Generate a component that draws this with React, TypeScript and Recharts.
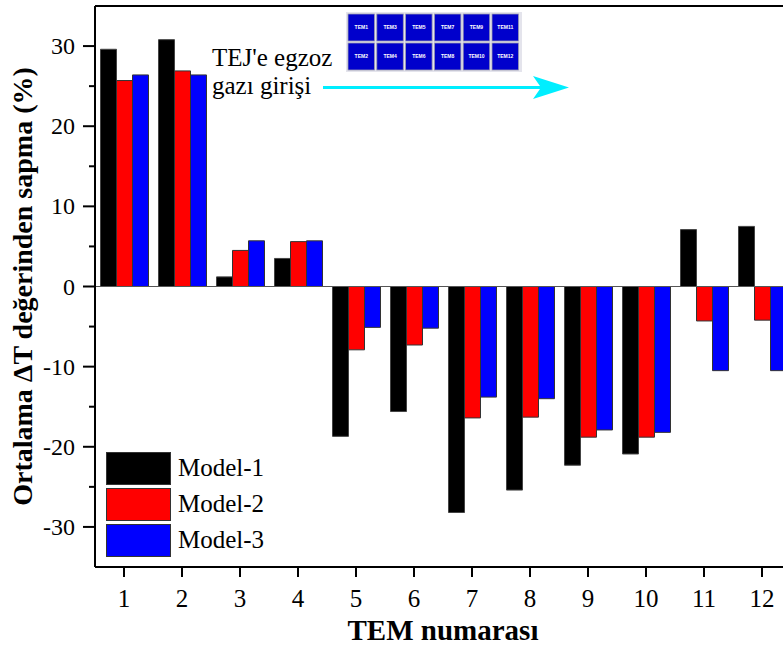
import React from "react";
import {
  BarChart,
  Bar,
  XAxis,
  YAxis,
  ReferenceLine,
  Legend,
} from "recharts";

const temLabels = ["1", "2", "3", "4", "5", "6", "7", "8", "9", "10", "11", "12"];
const model1 = [29.6, 30.8, 1.2, 3.5, -18.7, -15.6, -28.2, -25.4, -22.3, -20.9, 7.1, 7.5];
const model2 = [25.7, 26.9, 4.5, 5.6, -7.9, -7.3, -16.4, -16.3, -18.8, -18.8, -4.3, -4.2];
const model3 = [26.4, 26.4, 5.7, 5.7, -5.1, -5.2, -13.8, -14.0, -17.9, -18.2, -10.5, -10.5];
const yTicks = [-30, -25, -20, -15, -10, -5, 0, 5, 10, 15, 20, 25, 30];
const insetTop = ["TEM1", "TEM3", "TEM5", "TEM7", "TEM9", "TEM11"];
const insetBottom = ["TEM2", "TEM4", "TEM6", "TEM8", "TEM10", "TEM12"];

const data = temLabels.map((tem, i) => ({
  tem,
  m1: model1[i],
  m2: model2[i],
  m3: model3[i],
}));

const FONT = "Liberation Serif, Times New Roman, serif";

const YTick = (props: any) => {
  const { x, y, payload } = props;
  const major = payload.value % 10 === 0;
  return (
    <g>
      <line x1={x - (major ? 12 : 6)} x2={x} y1={y} y2={y} stroke="#000" strokeWidth={2} />
      {major && (
        <text x={x - 20} y={y + 8} textAnchor="end" style={{ fontFamily: FONT, fontSize: 24 }} fill="#000">
          {payload.value}
        </text>
      )}
    </g>
  );
};

const XTick = (props: any) => {
  const { x, y, payload } = props;
  return (
    <g>
      <line x1={x} x2={x} y1={y} y2={y + 10} stroke="#000" strokeWidth={2} />
      <text x={x} y={y + 40} textAnchor="middle" style={{ fontFamily: FONT, fontSize: 25 }} fill="#000">
        {payload.value}
      </text>
    </g>
  );
};

const LegendBox = (props: any) => {
  const { payload } = props;
  return (
    <div style={{ fontFamily: FONT }}>
      {payload.map((p: any) => (
        <div key={p.value} style={{ display: "flex", alignItems: "center", height: 36 }}>
          <span
            style={{
              display: "inline-block",
              width: 63,
              height: 31,
              background: p.color,
              border: "1px solid #333",
              marginRight: 7,
            }}
          />
          <span style={{ fontSize: 25, color: "#000", fontFamily: FONT }}>{p.value}</span>
        </div>
      ))}
    </div>
  );
};

const Inset = () => (
  <svg
    width={783}
    height={646}
    style={{ position: "absolute", left: 0, top: 0, pointerEvents: "none" }}
  >
    <rect x={346} y={12} width={176} height={60} fill="#e4e4ec" />
    {[insetTop, insetBottom].map((row, r) =>
      row.map((name, c) => (
        <g key={name}>
          <rect
            x={348 + c * 28.8}
            y={14 + r * 29}
            width={26.5}
            height={27}
            fill="#0000cc"
            stroke="#9a9ab0"
            strokeWidth={0.8}
          />
          <text
            x={348 + c * 28.8 + 13.25}
            y={14 + r * 29 + 15}
            textAnchor="middle"
            style={{ fontSize: 5, fontWeight: "bold", fontFamily: "Liberation Sans, Arial, sans-serif" }}
            fill="#ffffff"
          >
            {name}
          </text>
        </g>
      ))
    )}
    <text x={212} y={66} style={{ fontFamily: FONT, fontSize: 25 }} fill="#000">
      TEJ'e egzoz
    </text>
    <text x={212} y={94} style={{ fontFamily: FONT, fontSize: 25 }} fill="#000">
      gazı girişi
    </text>
    <line x1={323} x2={545} y1={87.5} y2={87.5} stroke="#00eeff" strokeWidth={3} />
    <polygon points="533,76 569,87.5 533,99 541,87.5" fill="#00eeff" />
  </svg>
);

export default function App() {
  return (
    <div
      style={{
        position: "absolute",
        left: 0,
        top: 0,
        width: 783,
        height: 646,
        overflow: "hidden",
        background: "#fff",
      }}
    >
      <BarChart
        width={800}
        height={646}
        data={data}
        margin={{ top: 6, right: 9, bottom: 0, left: 0 }}
        barCategoryGap="9.5%"
        barGap={0}
      >
        <XAxis
          dataKey="tem"
          height={79}
          tickSize={0}
          tickMargin={0}
          tick={<XTick />}
          axisLine={{ stroke: "#000", strokeWidth: 2 }}
          interval={0}
          label={{
            value: "TEM numarası",
            position: "insideBottom",
            offset: 6,
            style: { fontFamily: FONT, fontSize: 29, fontWeight: "bold", fill: "#000" },
          }}
        />
        <YAxis
          width={95}
          domain={[-35, 35]}
          ticks={yTicks}
          tickSize={0}
          tickMargin={0}
          tick={<YTick />}
          axisLine={{ stroke: "#000", strokeWidth: 2 }}
          interval={0}
          label={{
            value: "Ortalama ΔT değerinden sapma (%)",
            angle: -90,
            position: "insideLeft",
            offset: 0,
            dx: 22,
            style: {
              fontFamily: FONT,
              fontSize: 28,
              fontWeight: "bold",
              fill: "#000",
              textAnchor: "middle",
            },
          }}
        />
        <ReferenceLine y={35} stroke="#000" strokeWidth={2} />
        <ReferenceLine y={0} stroke="#555" strokeWidth={1} />
        <Legend
          layout="vertical"
          align="center"
          verticalAlign="middle"
          content={<LegendBox />}
          wrapperStyle={{ left: 106, top: 450, width: 200 }}
        />
        <Bar dataKey="m1" name="Model-1" fill="#000000" stroke="#444" strokeWidth={1} isAnimationActive={false} />
        <Bar dataKey="m2" name="Model-2" fill="#ff0000" stroke="#333" strokeWidth={1} isAnimationActive={false} />
        <Bar dataKey="m3" name="Model-3" fill="#0000ff" stroke="#333" strokeWidth={1} isAnimationActive={false} />
      </BarChart>
      <Inset />
    </div>
  );
}
